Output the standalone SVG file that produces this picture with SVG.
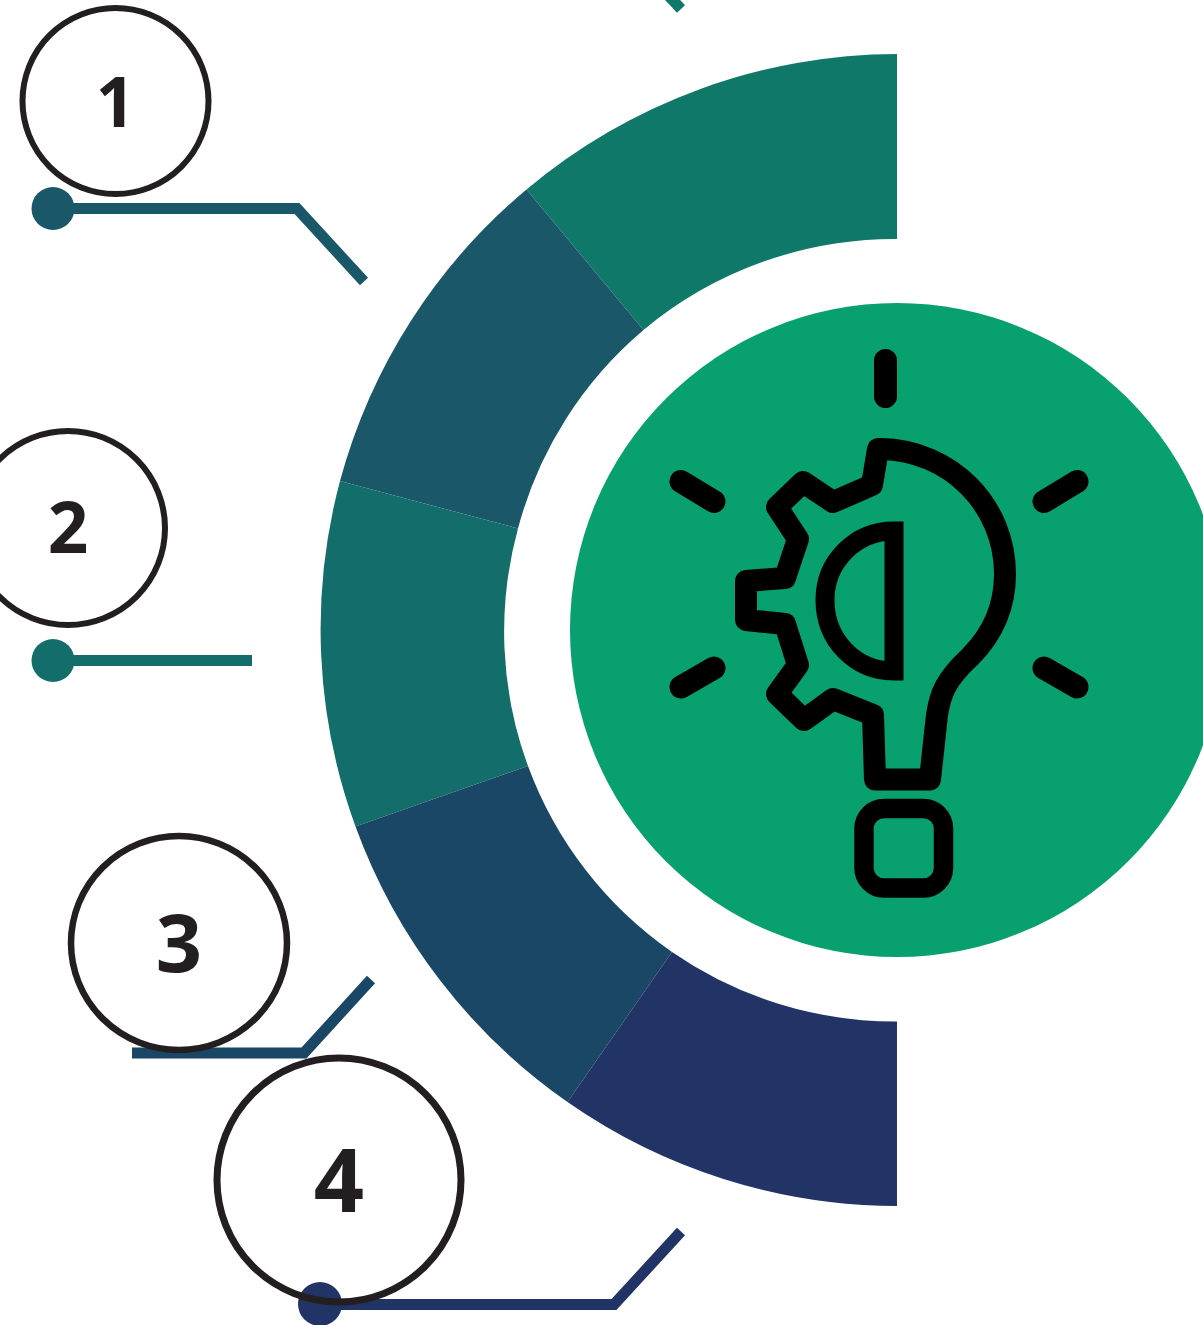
<svg xmlns="http://www.w3.org/2000/svg" width="1203" height="1325" viewBox="0 0 1203 1325">
<style>
.lead{fill:none;stroke-width:11;stroke-linejoin:miter}
.ring{fill:none;stroke:#231f20}
.num{font-family:"Open Sans","Noto Sans",sans-serif;font-weight:700;fill:#231f20;text-anchor:middle}
.ic{fill:none;stroke:#000;stroke-linejoin:round;stroke-linecap:round}
</style>
<rect width="1203" height="1325" fill="#fff"/>
<g id="ring-segments">
<path fill="#107869" d="M897 54V239A392 391 0 0 0 643.500 330L526.500 189.500A577 576 0 0 1 897 54Z"/>
<path fill="#1a5869" d="M526.500 189.500L643.500 330A392 391 0 0 0 518 528.500L340 481A577 576 0 0 1 526.500 189.500Z"/>
<path fill="#136d6a" d="M340 481L518 528.500A392 391 0 0 0 528 766L355.500 826.500A577 576 0 0 1 340 481Z"/>
<path fill="#1b4767" d="M355.500 826.500L528 766A392 391 0 0 0 672 952L567.500 1102A577 576 0 0 1 355.500 826.500Z"/>
<path fill="#223366" d="M567.500 1102L672 952A392 391 0 0 0 897 1021.500V1206A577 576 0 0 1 567.500 1102Z"/>
</g>
<g id="connectors">
<path class="lead" stroke="#107869" d="M667 -6L681 9"/>
<path class="lead" stroke="#1a5869" d="M53 208.500H297L364 281.500"/>
<circle cx="53" cy="208.500" r="21.500" fill="#1a5869"/>
<path class="lead" stroke="#136d6a" d="M53 660.500H252"/>
<circle cx="53" cy="660.500" r="21.500" fill="#136d6a"/>
<path class="lead" stroke="#1b4767" d="M132 1053H304L371 979.500"/>
<path class="lead" stroke="#223366" d="M320 1304.500H614L681 1231.500"/>
<circle cx="320" cy="1304" r="22" fill="#223366"/>
</g>
<g id="center-icon">
<circle cx="897" cy="630" r="327" fill="#08a06e"/>
<path class="ic" stroke-width="23" d="M885.500 360.500V396.500M681 481.500L714 501.500M1077 481.500L1044 501.500M714 668L681 687M1044 668L1077 687"/>
<path class="ic" stroke-width="22" d="M878 449H881C950 450 1005 505 1005 574C1005 610 990 637 970 657C945 680 940 695 937 715L930 779.500H875L873 715L833 699L804 720L777 694L798 665L785 624L746 620V581L785 578L798 539L777 507L803 482L833 502L872 485Z"/>
<path fill="none" stroke="#000" stroke-width="19" stroke-linejoin="miter" d="M894 531C855 531 825 562 825 600C825 640 855 671 894 671Z"/>
<rect x="864" y="808.500" width="79.500" height="79.500" rx="20" fill="none" stroke="#000" stroke-width="19.500"/>
</g>
<g id="node-1"><ellipse class="ring" stroke-width="6" cx="115.500" cy="101" rx="93" ry="93"/><text class="num" x="115.500" y="127" font-size="69">1</text></g>
<g id="node-2"><ellipse class="ring" stroke-width="6" cx="68" cy="528" rx="97" ry="97"/><text class="num" x="68" y="553" font-size="71">2</text></g>
<g id="node-3"><ellipse class="ring" stroke-width="6.500" cx="179" cy="943" rx="108" ry="107"/><text class="num" x="179" y="972" font-size="81">3</text></g>
<g id="node-4"><ellipse class="ring" stroke-width="7" cx="339" cy="1180" rx="122" ry="122"/><text class="num" x="339" y="1212" font-size="88">4</text></g>
</svg>
